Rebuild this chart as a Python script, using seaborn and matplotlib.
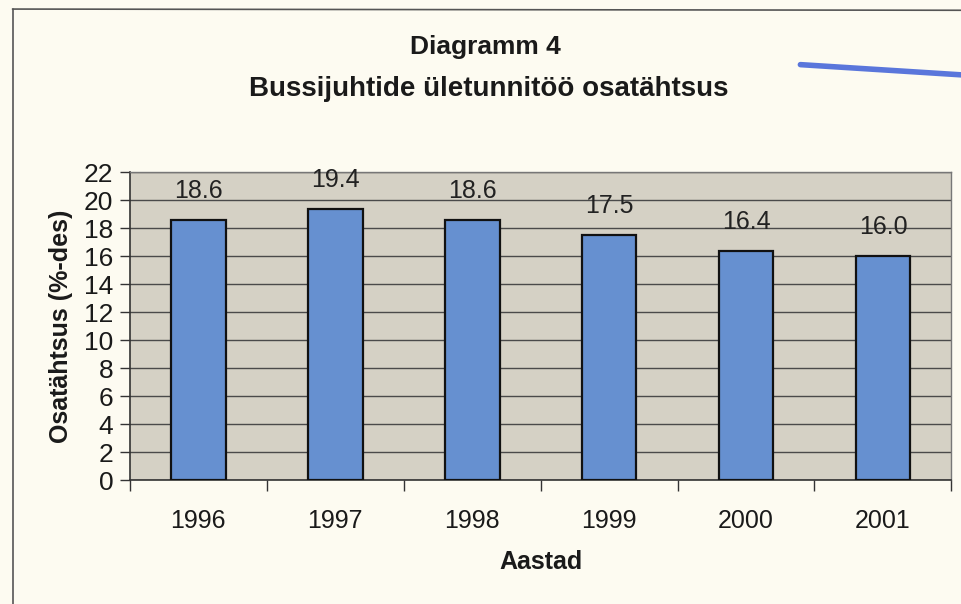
import matplotlib
matplotlib.use("Agg")
import matplotlib.pyplot as plt
import seaborn as sns
import pandas as pd
from matplotlib.lines import Line2D
from matplotlib.ticker import FixedLocator

years = ["1996", "1997", "1998", "1999", "2000", "2001"]
values = [18.6, 19.4, 18.6, 17.5, 16.4, 16.0]
yticks = list(range(0, 23, 2))

sns.set_theme(style="white")
plt.rcParams["font.family"] = ["Liberation Sans", "DejaVu Sans"]

df = pd.DataFrame({"Aastad": years, "Osatähtsus": values})

fig = plt.figure(figsize=(9.62, 6.04), dpi=100, facecolor="#fdfbf1")
ax = fig.add_axes([0.135, 0.205, 0.854, 0.51])
ax.set_facecolor("#d5d1c5")

sns.barplot(data=df, x="Aastad", y="Osatähtsus", ax=ax, width=0.4,
            color="#6690d0", saturation=1, edgecolor="#111111", linewidth=1.6,
            zorder=3)
ax.bar_label(ax.containers[0], fmt="%.1f", padding=12, fontsize=18, color="#222222")

ax.set_ylim(0, 22)
ax.set_yticks(yticks)
ax.set_xlim(-0.5, len(years) - 0.5)
ax.yaxis.grid(True, color="#4a4a4a", linewidth=1.0, zorder=0)
ax.set_axisbelow(True)

ax.tick_params(axis="y", labelsize=19, length=7, width=1, color="#333333",
               pad=5, left=True, direction="out", labelcolor="#1a1a1a")
ax.tick_params(axis="x", which="major", labelsize=18, length=0, pad=21,
               labelcolor="#1a1a1a")
ax.xaxis.set_minor_locator(FixedLocator([i - 0.5 for i in range(len(years) + 1)]))
ax.tick_params(axis="x", which="minor", length=8, width=1, color="#333333",
               bottom=True, direction="out")

for s in ["top", "right"]:
    ax.spines[s].set_color("#777777")
    ax.spines[s].set_linewidth(1.0)
for s in ["left", "bottom"]:
    ax.spines[s].set_color("#333333")
    ax.spines[s].set_linewidth(1.2)

ax.set_xlabel("Aastad", fontsize=18, fontweight="bold", labelpad=12, color="#1a1a1a")
ax.set_ylabel("Osatähtsus (%-des)", fontsize=18, fontweight="bold", labelpad=8,
              color="#1a1a1a")

fig.text(0.505, 0.922, "Diagramm 4", ha="center", va="center", fontsize=19,
         fontweight="bold", color="#1a1a1a")
fig.text(0.508, 0.852, "Bussijuhtide ületunnitöö osatähtsus", ha="center",
         va="center", fontsize=20, fontweight="bold", color="#1a1a1a")

# scanned page frame
fig.add_artist(Line2D([0.013, 0.013], [0.0, 0.985], transform=fig.transFigure,
                      color="#555555", linewidth=1.2))
fig.add_artist(Line2D([0.013, 1.0], [0.985, 0.983], transform=fig.transFigure,
                      color="#555555", linewidth=1.2))
# pen stroke at top right
fig.add_artist(Line2D([0.832, 1.0], [0.893, 0.876], transform=fig.transFigure,
                      color="#3d5fd8", linewidth=4, alpha=0.85))

fig.savefig("out.png", dpi=100, facecolor=fig.get_facecolor())
